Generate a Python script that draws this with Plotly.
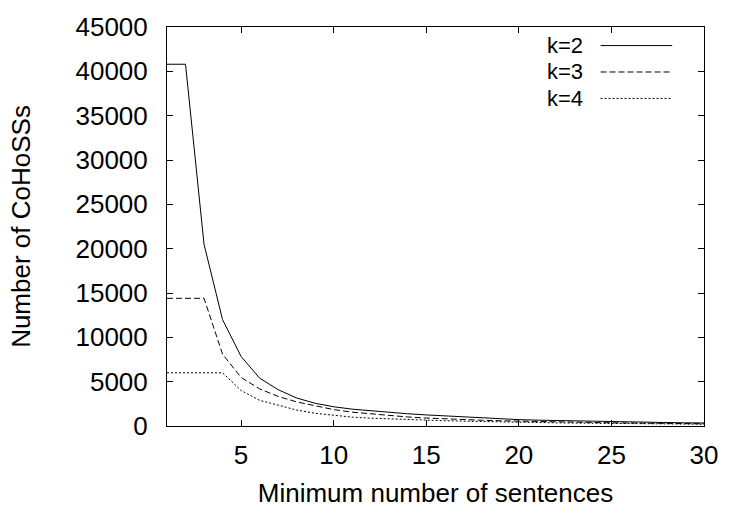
import plotly.graph_objects as go

x_vals = list(range(1, 31))
k2 = [40800, 40800, 20500, 12000, 7850, 5400, 4100, 3160, 2560, 2170,
      1900, 1700, 1530, 1380, 1250, 1130, 1020, 920, 810, 720,
      660, 610, 560, 520, 480, 450, 420, 390, 360, 340]
k3 = [14400, 14400, 14400, 8100, 5480, 4190, 3340, 2720, 2280, 1850,
      1560, 1360, 1180, 1020, 900, 800, 720, 650, 590, 540,
      500, 460, 420, 390, 360, 340, 310, 290, 270, 250]
k4 = [6000, 6000, 6000, 6000, 4000, 2900, 2350, 1800, 1430, 1180,
      1000, 880, 790, 720, 660, 600, 550, 500, 460, 420,
      390, 360, 330, 300, 280, 260, 240, 220, 210, 200]
series_names = ["k=2", "k=3", "k=4"]
x_ticks = [5, 10, 15, 20, 25, 30]
y_ticks = [0, 5000, 10000, 15000, 20000, 25000, 30000, 35000, 40000, 45000]

dashes = ["solid", "6px,3px", "2px,2px"]
FONT = "Liberation Sans, Arial, sans-serif"
FS = 26
LEG_FS = 22

fig = go.Figure()
for name, ys, d in zip(series_names, [k2, k3, k4], dashes):
    fig.add_trace(go.Scatter(x=x_vals, y=ys, mode="lines", name=name,
                             line=dict(color="black", width=1, dash=d),
                             showlegend=False))

axis_common = dict(showline=True, linecolor="black", linewidth=1, mirror="ticks",
                   ticks="inside", ticklen=6, tickcolor="black", tickwidth=1,
                   showgrid=False, zeroline=False, tickformat="d",
                   tickfont=dict(family=FONT, size=FS, color="black"))

fig.update_xaxes(range=[1, 30], tickvals=x_ticks, ticklabelstandoff=6,
                 title=dict(text="Minimum number of sentences",
                            font=dict(family=FONT, size=FS, color="black"),
                            standoff=14),
                 **axis_common)
fig.update_yaxes(range=[0, 45000], tickvals=y_ticks, ticklabelstandoff=13,
                 title=dict(text="Number of CoHoSSs",
                            font=dict(family=FONT, size=FS, color="black"),
                            standoff=37),
                 **axis_common)

# gnuplot-style key: text right-aligned, line sample to the right
legend_rows_y = [39, 66, 93]
plot_top, plot_bottom = 20, 428
plot_h = plot_bottom - plot_top
for name, d, yp in zip(series_names, dashes, legend_rows_y):
    yf = 1 - (yp - plot_top) / plot_h
    fig.add_annotation(xref="paper", yref="paper", x=(586 - 167) / 540, y=yf,
                       text=name, showarrow=False, xanchor="right", yanchor="middle",
                       borderpad=0,
                       font=dict(family=FONT, size=LEG_FS, color="black"))
    fig.add_shape(type="line", xref="paper", yref="paper",
                  x0=(603 - 167) / 540, x1=(675 - 167) / 540, y0=yf, y1=yf,
                  line=dict(color="black", width=1, dash=d))

fig.update_layout(width=730, height=514,
                  margin=dict(l=167, r=23, t=20, b=86),
                  plot_bgcolor="white", paper_bgcolor="white",
                  font=dict(family=FONT, color="black"))

fig.write_html("out.html")
